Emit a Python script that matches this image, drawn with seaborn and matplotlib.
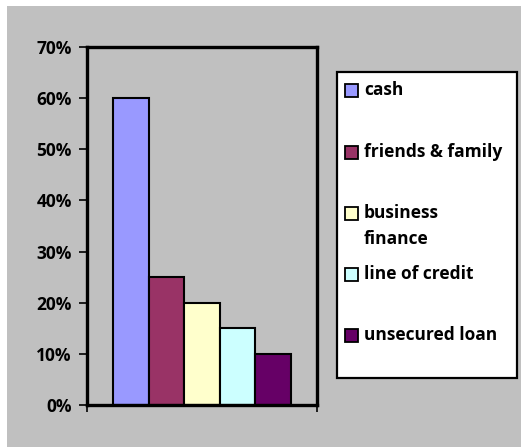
import matplotlib
matplotlib.use("Agg")
import matplotlib.pyplot as plt
import matplotlib.patches as mpatches
import seaborn as sns
import pandas as pd

# Data
series = ["cash", "friends & family", "business finance", "line of credit", "unsecured loan"]
legend_labels = ["cash", "friends & family", "business\nfinance", "line of credit", "unsecured loan"]
values = [0.60, 0.25, 0.20, 0.15, 0.10]
colors = ["#9999FF", "#993366", "#FFFFCC", "#CCFFFF", "#660066"]
yticks = [0.0, 0.1, 0.2, 0.3, 0.4, 0.5, 0.6, 0.7]
ytick_labels = ["0%", "10%", "20%", "30%", "40%", "50%", "60%", "70%"]

df = pd.DataFrame({"group": [""] * len(series), "series": series, "value": values})

sns.set_style("white")
FONT = ["Open Sans", "DejaVu Sans"]
plt.rcParams["font.family"] = FONT
plt.rcParams["text.color"] = "black"
plt.rcParams["ytick.labelcolor"] = "black"
FS = 12.5

W, H = 521, 447
fig = plt.figure(figsize=(W / 100, H / 100), dpi=100, facecolor="white")

def fx(x):
    return x / W

def fy(y):
    return 1 - y / H

# gray chart area background
fig.add_artist(mpatches.Rectangle((fx(7), 0), 1 - fx(7), fy(6), transform=fig.transFigure,
                                  facecolor="#C0C0C0", edgecolor="none", zorder=-10))

ax = fig.add_axes([fx(87), fy(405), (317 - 87) / W, (405 - 47) / H])
ax.set_facecolor("#C0C0C0")

sns.barplot(data=df, x="group", y="value", hue="series", hue_order=series,
            palette=colors, width=0.77, edgecolor="black", linewidth=1.5,
            saturation=1, legend=False, ax=ax)

ax.set_ylim(0, 0.7)
ax.set_xlim(-0.5, 0.5)
ax.set_yticks(yticks)
ax.set_yticklabels(ytick_labels, fontweight="bold", fontsize=FS, color="black")
ax.set_xticks([-0.5, 0.5])
ax.set_xticklabels(["", ""])
ax.set_xlabel("")
ax.set_ylabel("")
ax.tick_params(axis="y", direction="out", length=6, width=1.2, color="black", pad=5, left=True)
ax.tick_params(axis="x", direction="out", length=5, width=1.2, color="black", bottom=True)
for s in ax.spines.values():
    s.set_visible(True)
    s.set_color("black")
    s.set_linewidth(2.4)

# Legend box (manual)
fig.add_artist(mpatches.Rectangle((fx(337), fy(378)), (517 - 337) / W, (378 - 72) / H,
                                  transform=fig.transFigure, facecolor="white",
                                  edgecolor="black", linewidth=1.6, zorder=5))
entry_y = [90, 152, 213, 274, 335]
for lab, col, yy in zip(legend_labels, colors, entry_y):
    fig.add_artist(mpatches.Rectangle((fx(345), fy(yy + 6.5)), 13 / W, 13 / H,
                                      transform=fig.transFigure, facecolor=col,
                                      edgecolor="black", linewidth=1.3, zorder=6))
    for i, line in enumerate(lab.split("\n")):
        fig.text(fx(364), fy(yy + 26 * i), line, ha="left", va="center", fontsize=FS,
                 fontweight="bold", family=FONT, color="black", zorder=7)

fig.savefig("out.png", dpi=100, facecolor="white")
